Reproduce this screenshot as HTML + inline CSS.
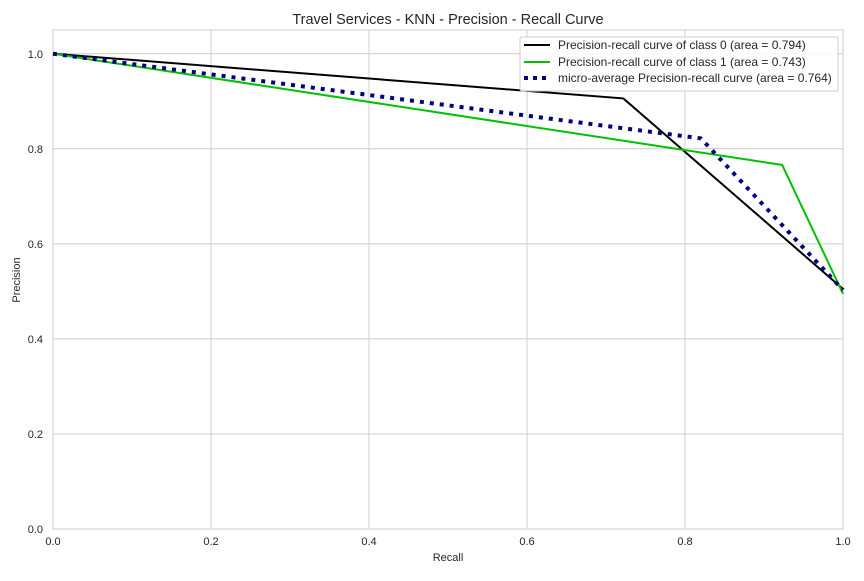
<!DOCTYPE html>
<html><head><meta charset="utf-8"><style>
body{margin:0;background:#fff;font-family:"Liberation Sans",sans-serif}
svg text{font-family:"Liberation Sans",sans-serif;fill:#262626}
</style></head><body>
<svg id="chart" width="864" height="576" xmlns="http://www.w3.org/2000/svg">
<rect width="864" height="576" fill="#fff"/>
<g id="grid"></g>
<g id="series"></g>
<g id="ticks"></g>
<text x="448" y="24" font-size="14.5" text-anchor="middle">Travel Services - KNN - Precision - Recall Curve</text>
<text x="448" y="561" font-size="11" text-anchor="middle">Recall</text>
<text x="20" y="280" font-size="11" text-anchor="middle" transform="rotate(-90 20 280)">Precision</text>
<g>
<rect x="520" y="37" width="318" height="54" fill="#fff" fill-opacity="0.85" stroke="#ccc" rx="2"/>
<line x1="524" y1="45" x2="550" y2="45" stroke="#000" stroke-width="2"/>
<text x="558" y="49" font-size="12">Precision-recall curve of class 0 (area = 0.794)</text>
<line x1="524" y1="62" x2="550" y2="62" stroke="#00c000" stroke-width="2"/>
<text x="558" y="66" font-size="12">Precision-recall curve of class 1 (area = 0.743)</text>
<line x1="524" y1="78" x2="550" y2="78" stroke="#000080" stroke-width="4" stroke-dasharray="4,5"/>
<text x="558" y="82" font-size="12">micro-average Precision-recall curve (area = 0.764)</text>
</g>
</svg>
<script>
const xTicks=[0,0.2,0.4,0.6,0.8,1.0];
const yTicks=[0,0.2,0.4,0.6,0.8,1.0];
const class0Recall=[0,0.722,1];
const class0Precision=[1,0.906,0.505];
const class1Recall=[0,0.923,1];
const class1Precision=[1,0.766,0.495];
const microRecall=[0,0.82,1];
const microPrecision=[1,0.822,0.503];
const L=53,R=843,T=30,B=529;
const sx=v=>L+v*(R-L);
const sy=v=>B-v/1.05*(B-T);
const NS="http://www.w3.org/2000/svg";
function mk(tag,attrs,parent){const e=document.createElementNS(NS,tag);for(const k in attrs)e.setAttribute(k,attrs[k]);parent.appendChild(e);return e;}
const grid=document.getElementById('grid'),ticks=document.getElementById('ticks'),series=document.getElementById('series');
xTicks.forEach(t=>{
 const g=mk('line',{x1:sx(t),x2:sx(t),y1:T,y2:B,stroke:'#cccccc','stroke-width':1},grid);
 
 
 const tx=mk('text',{x:sx(t),y:B+16,'font-size':11,'text-anchor':'middle'},ticks);
 tx.textContent=t.toFixed(1);
 
 
});
yTicks.forEach(t=>{
 const g=mk('line',{x1:L,x2:R,y1:sy(t),y2:sy(t),stroke:'#cccccc','stroke-width':1},grid);
 
 
 const tx=mk('text',{x:L-10,y:sy(t)+4,'font-size':11,'text-anchor':'end'},ticks);
 tx.textContent=t.toFixed(1);
 
 
});
const frame=mk('rect',{x:L,y:T,width:R-L,height:B-T,fill:'none',stroke:'#cccccc'},grid);


function line(xs,ys,attrs,name){
 const pts=xs.map((x,i)=>sx(x)+','+sy(ys[i])).join(' ');
 const p=mk('polyline',Object.assign({points:pts,fill:'none'},attrs),series);
 
 
}
line(class0Recall,class0Precision,{stroke:'#000','stroke-width':2},'class-0-curve');
line(class1Recall,class1Precision,{stroke:'#00c000','stroke-width':2},'class-1-curve');
line(microRecall,microPrecision,{stroke:'#000080','stroke-width':4,'stroke-dasharray':'4,6'},'micro-average-curve');
</script>
</body></html>
